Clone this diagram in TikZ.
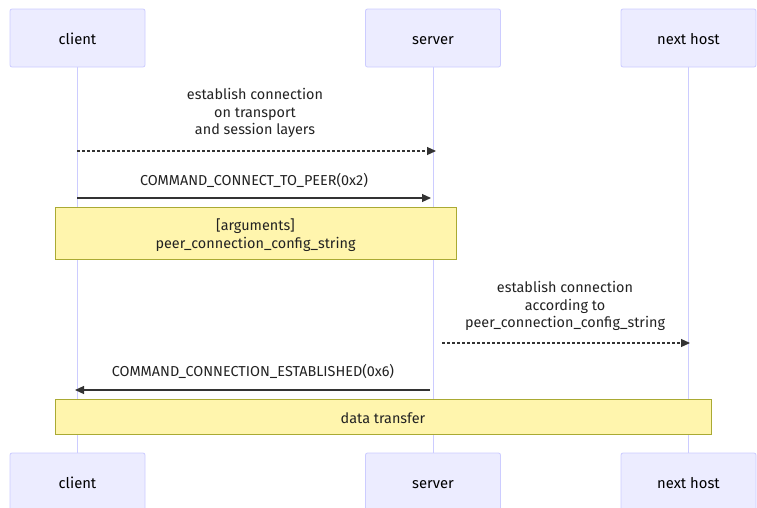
\documentclass[tikz,border=0pt]{standalone}
\usepackage{fontspec}
\setmainfont{Fira Sans}
\usetikzlibrary{arrows.meta}
\definecolor{actorfill}{HTML}{ECECFF}
\definecolor{actorline}{HTML}{CCCCFF}
\definecolor{notefill}{HTML}{FFF5AD}
\definecolor{noteline}{HTML}{AAAA33}
\definecolor{msgline}{HTML}{333333}
\definecolor{labeltext}{HTML}{222222}
\tikzset{
  actor/.style={draw=actorline, fill=actorfill, rounded corners=2pt, line width=0.8pt,
    minimum width=135pt, minimum height=58pt, inner sep=0pt,
    text height=14pt, text depth=1.5pt,
    font=\fontsize{14.8}{17}\selectfont, text=black},
  lifeline/.style={draw=actorline, line width=1pt},
  msg/.style={draw=msgline, line width=1.2pt, -{Triangle[length=9pt,width=8pt]}},
  dotmsg/.style={msg, dash pattern=on 2.5pt off 2.5pt},
  msgtext/.style={font=\fontsize{14.4}{17.5}\selectfont, align=center, text=labeltext, inner sep=0pt},
  note/.style={draw=noteline, fill=notefill, line width=0.8pt, inner sep=0pt,
    font=\fontsize{14.4}{17.5}\selectfont, align=center, text=labeltext},
}
\begin{document}
\begin{tikzpicture}[x=1pt,y=-1pt]
\useasboundingbox (0,0) rectangle (757,507);
% lifelines
\draw[lifeline] (77,67) -- (77,453);
\draw[lifeline] (433,67) -- (433,453);
\draw[lifeline] (688,67) -- (688,453);
% participants, top and bottom
\node[actor] (clientTop) at (77.5,38) {client};
\node[actor] (serverTop) at (433,38) {server};
\node[actor] (hostTop) at (688.5,38) {next host};
\begin{scope}
\clip (0,0) rectangle (757,507);
\node[actor] (clientBot) at (77.5,482) {client};
\node[actor] (serverBot) at (433,482) {server};
\node[actor] (hostBot) at (688.5,482) {next host};
\end{scope}
% message anchor points on the lifelines
\coordinate (c1) at (77,151);  \coordinate (s1) at (436,151);
\coordinate (c2) at (77,198);  \coordinate (s2) at (431,198);
\coordinate (s3) at (442,343); \coordinate (h3) at (690,343);
\coordinate (s4) at (430,390); \coordinate (c4) at (75,390);
% messages
\node[msgtext] (t1) at (255,113) {establish connection\\on transport\\and session layers};
\draw[dotmsg] (c1) -- (s1);
\node[msgtext] (t2) at (254,180.5) {COMMAND\_CONNECT\_TO\_PEER(0x2)};
\draw[msg] (c2) -- (s2);
% notes
\draw[draw=noteline, fill=notefill, line width=0.8pt] (55,207) rectangle (456,259);
\node[msgtext] (n1) at (255.5,235) {[arguments]\\peer\_connection\_config\_string};
\node[msgtext] (t3) at (565,306) {establish connection\\according to\\peer\_connection\_config\_string};
\draw[dotmsg] (s3) -- (h3);
\node[msgtext] (t4) at (253,371) {COMMAND\_CONNECTION\_ESTABLISHED(0x6)};
\draw[msg] (s4) -- (c4);
\draw[draw=noteline, fill=notefill, line width=0.8pt] (55,399) rectangle (711,434);
\node[msgtext] (n2) at (383,418) {data transfer};
\end{tikzpicture}
\end{document}
